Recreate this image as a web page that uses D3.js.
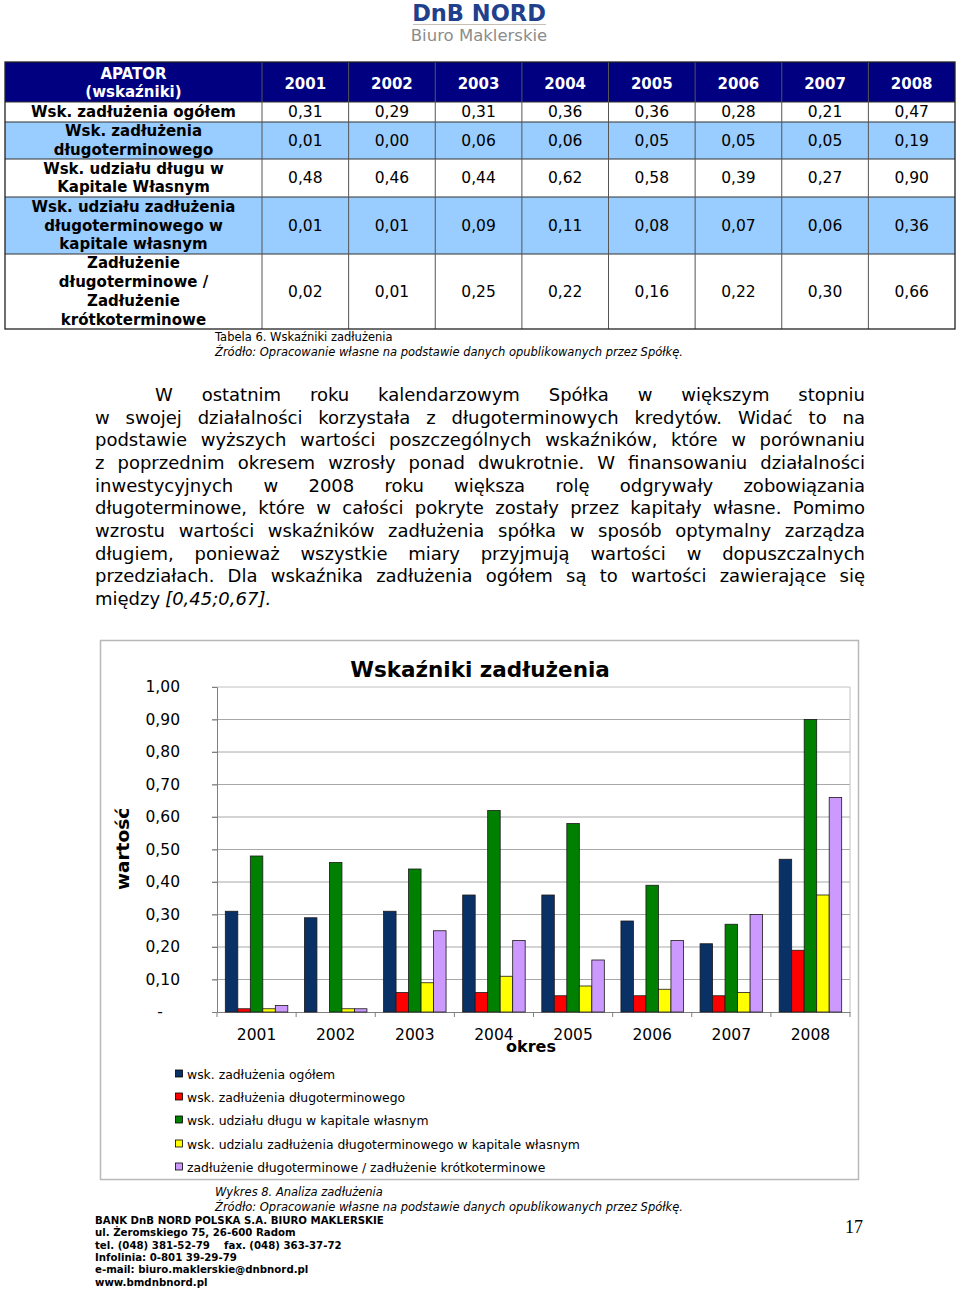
<!DOCTYPE html>
<html><head><meta charset="utf-8">
<script src="https://cdn.jsdelivr.net/npm/d3@7"></script>
<style>body{margin:0;background:#fff}svg{display:block}</style>
</head><body>
<script>
// ---------- DATA ----------
const years = ["2001","2002","2003","2004","2005","2006","2007","2008"];
const tableTitle = ["APATOR","(wskaźniki)"];
const rowLabels = [
  ["Wsk. zadłużenia ogółem"],
  ["Wsk. zadłużenia","długoterminowego"],
  ["Wsk. udziału długu w","Kapitale Własnym"],
  ["Wsk. udziału zadłużenia","długoterminowego w","kapitale własnym"],
  ["Zadłużenie","długoterminowe /","Zadłużenie","krótkoterminowe"]
];
const zadluzenieOgolem      = [0.31,0.29,0.31,0.36,0.36,0.28,0.21,0.47];
const zadluzenieDlugoterm   = [0.01,0.00,0.06,0.06,0.05,0.05,0.05,0.19];
const udzialDluguKapital    = [0.48,0.46,0.44,0.62,0.58,0.39,0.27,0.90];
const udzialZadlDlugKapital = [0.01,0.01,0.09,0.11,0.08,0.07,0.06,0.36];
const dlugoDoKrotko         = [0.02,0.01,0.25,0.22,0.16,0.22,0.30,0.66];
const seriesNames = [
  "wsk. zadłużenia ogółem",
  "wsk. zadłużenia długoterminowego",
  "wsk. udziału długu w kapitale własnym",
  "wsk. udzialu zadłużenia długoterminowego w kapitale własnym",
  "zadłużenie długoterminowe / zadłużenie krótkoterminowe"
];
const seriesColors = ["#0a3166","#ff0000","#008000","#ffff00","#cc99ff"];
const yTicks = [0,0.1,0.2,0.3,0.4,0.5,0.6,0.7,0.8,0.9,1.0];
const chartTitle = "Wskaźniki zadłużenia";
const yTitle = "wartość";
const xTitle = "okres";
const paragraphLines = [
  "W ostatnim roku kalendarzowym Spółka w większym stopniu",
  "w swojej działalności korzystała z długoterminowych kredytów. Widać to na",
  "podstawie wyższych wartości poszczególnych wskaźników, które w porównaniu",
  "z poprzednim okresem wzrosły ponad dwukrotnie. W finansowaniu działalności",
  "inwestycyjnych w 2008 roku większa rolę odgrywały zobowiązania",
  "długoterminowe, które w całości pokryte zostały przez kapitały własne. Pomimo",
  "wzrostu wartości wskaźników zadłużenia spółka w sposób optymalny zarządza",
  "długiem, ponieważ wszystkie miary przyjmują wartości w dopuszczalnych",
  "przedziałach. Dla wskaźnika zadłużenia ogółem są to wartości zawierające się"
];
const paragraphLast = ["między ", "[0,45;0,67]."];
const tableCaption = "Tabela 6. Wskaźniki zadłużenia";
const chartCaption = "Wykres 8. Analiza zadłużenia";
const sourceText = "Źródło: Opracowanie własne na podstawie danych opublikowanych przez Spółkę.";
const footerLines = [
  "BANK DnB NORD POLSKA S.A. BIURO MAKLERSKIE",
  "ul. Żeromskiego 75, 26-600 Radom",
  "tel. (048) 381-52-79    fax. (048) 363-37-72",
  "Infolinia: 0-801 39-29-79",
  "e-mail: biuro.maklerskie@dnbnord.pl",
  "www.bmdnbnord.pl"
];
const pageNumber = "17";

const series = [zadluzenieOgolem, zadluzenieDlugoterm, udzialDluguKapital, udzialZadlDlugKapital, dlugoDoKrotko];
const fmt = v => v.toFixed(2).replace(".", ",");

// ---------- PAGE ----------
const W = 960, H = 1289;
const FONT = "'DejaVu Sans', Verdana, sans-serif";
const svg = d3.select("body").append("svg").attr("width", W).attr("height", H)
  .style("font-family", FONT);
svg.append("rect").attr("width", W).attr("height", H).attr("fill", "#fff");

// Logo
svg.append("text").attr("x", 479).attr("y", 21).attr("text-anchor", "middle")
  .attr("font-size", 22.5).attr("font-weight", "bold").attr("fill", "#21408c").text("DnB NORD");
svg.append("line").attr("x1", 413).attr("x2", 546).attr("y1", 24.5).attr("y2", 24.5)
  .attr("stroke", "#c9bfb4").attr("stroke-width", 1);
svg.append("text").attr("x", 479).attr("y", 41).attr("text-anchor", "middle")
  .attr("font-size", 16.5).attr("fill", "#8c8c8c").text("Biuro Maklerskie");

// ---------- TABLE ----------
const rowEdges = [62,102,122,159,197,254,329];
const colEdges = [5,262].concat(d3.range(1,9).map(i => 262 + i*(955-262)/8));
const rowFills = ["#fff","#99ccff","#fff","#99ccff","#fff"];
const tbl = svg.append("g");
tbl.append("rect").attr("x", 5).attr("y", rowEdges[0]).attr("width", 950)
  .attr("height", rowEdges[1]-rowEdges[0]).attr("fill", "#000080");
rowFills.forEach((f,i) => {
  tbl.append("rect").attr("x", 5).attr("y", rowEdges[i+1]).attr("width", 950)
    .attr("height", rowEdges[i+2]-rowEdges[i+1]).attr("fill", f);
});
rowEdges.slice(1,-1).forEach(y => tbl.append("line").attr("x1",5).attr("x2",955)
  .attr("y1",y).attr("y2",y).attr("stroke","#333").attr("stroke-width",1));
colEdges.slice(1,-1).forEach(x => tbl.append("line").attr("x1",x).attr("x2",x)
  .attr("y1",rowEdges[0]).attr("y2",rowEdges[6]).attr("stroke","#555").attr("stroke-width",1));
tbl.append("rect").attr("x",5).attr("y",rowEdges[0]).attr("width",950)
  .attr("height",rowEdges[6]-rowEdges[0]).attr("fill","none").attr("stroke","#222").attr("stroke-width",1.3);
const lh = 18.7;
function multiline(g, lines, cx, cy, attrs) {
  const n = lines.length;
  lines.forEach((s,i) => {
    const t = g.append("text").attr("x", cx).attr("y", cy + (i-(n-1)/2)*lh)
      .attr("text-anchor","middle").attr("dominant-baseline","central").text(s);
    Object.entries(attrs).forEach(([k,v]) => t.attr(k,v));
  });
}
multiline(tbl, tableTitle, (colEdges[0]+colEdges[1])/2, (rowEdges[0]+rowEdges[1])/2 + 1,
  {"font-size":15,"font-weight":"bold","fill":"#fff"});
years.forEach((y,i) => multiline(tbl, [y], (colEdges[i+1]+colEdges[i+2])/2, (rowEdges[0]+rowEdges[1])/2+2,
  {"font-size":15,"font-weight":"bold","fill":"#fff"}));
rowLabels.forEach((lab,r) => {
  const cy = (rowEdges[r+1]+rowEdges[r+2])/2;
  multiline(tbl, lab, (colEdges[0]+colEdges[1])/2, cy, {"font-size":15,"font-weight":"bold","fill":"#000"});
  series[r].forEach((v,i) => multiline(tbl, [fmt(v)], (colEdges[i+1]+colEdges[i+2])/2, cy,
    {"font-size":15.5,"fill":"#000"}));
});
svg.append("text").attr("x",215).attr("y",341).attr("font-size",11.5).text(tableCaption);
svg.append("text").attr("x",215).attr("y",356).attr("font-size",11.5).attr("font-style","italic").text(sourceText);

// ---------- PARAGRAPH ----------
const pg = svg.append("g").attr("font-size", 18).attr("fill", "#000");
const pLeft = 95, pRight = 865, pBase0 = 401, pLH = 22.67;
function measure(s, italic) {
  const t = pg.append("text").attr("font-style", italic ? "italic" : null).text(s);
  const w = t.node().getComputedTextLength(); t.remove(); return w;
}
paragraphLines.forEach((line,i) => {
  const words = line.split(" ");
  const x0 = i === 0 ? 155 : pLeft;
  const widths = words.map(w => measure(w));
  const gap = (pRight - x0 - d3.sum(widths)) / (words.length - 1);
  let x = x0;
  words.forEach((w,j) => {
    pg.append("text").attr("x", x).attr("y", pBase0 + i*pLH).text(w);
    x += widths[j] + gap;
  });
});
{
  const yb = pBase0 + paragraphLines.length*pLH;
  const w0 = measure(paragraphLast[0]);
  pg.append("text").attr("x", pLeft).attr("y", yb).attr("xml:space","preserve").text(paragraphLast[0]);
  pg.append("text").attr("x", pLeft + w0 + 5).attr("y", yb).attr("font-style","italic").text(paragraphLast[1]);
}

// ---------- CHART ----------
svg.append("rect").attr("x",100.5).attr("y",640.5).attr("width",758).attr("height",539)
  .attr("fill","#fff").attr("stroke","#b8b8b8").attr("stroke-width",1.5);
const pl = 217, pr = 850, pt = 687, pb = 1012;
const y = d3.scaleLinear().domain([0,1]).range([pb,pt]);
const x0s = d3.scaleBand().domain(years).range([pl,pr]).padding(0);
const x1s = d3.scaleBand().domain(d3.range(series.length))
  .range([x0s.bandwidth()*0.105, x0s.bandwidth()*0.895]).padding(0);
const ch = svg.append("g");
ch.selectAll(".grid").data(yTicks.filter(d => d>0)).join("line")
  .attr("x1", pl-5).attr("x2", pr).attr("y1", d => y(d)).attr("y2", d => y(d))
  .attr("stroke", d => d === 1 ? "#c0c0c0" : "#a8a8a8").attr("stroke-width",1);
ch.append("line").attr("x1",pr).attr("x2",pr).attr("y1",pt).attr("y2",pb).attr("stroke","#c0c0c0");
const yAxis = d3.axisLeft(y).tickValues(yTicks).tickSize(5).tickPadding(32)
  .tickFormat(d => d === 0 ? "-" : fmt(d));
const ya = ch.append("g").attr("transform",`translate(${pl},0)`).call(yAxis);
ya.select(".domain").attr("stroke","#808080");
ya.selectAll(".tick line").attr("stroke","#808080");
ya.selectAll(".tick text").attr("font-size",15.5).attr("font-family",FONT).attr("fill","#000")
  .attr("text-anchor", d => d === 0 ? "middle" : "end")
  .attr("dx", d => d === 0 ? -20 : 0);
const xAxis = d3.axisBottom(x0s).tickSize(0).tickPadding(17);
const xa = ch.append("g").attr("transform",`translate(0,${pb})`).call(xAxis);
xa.select(".domain").attr("stroke","#808080");
xa.selectAll(".tick text").attr("font-size",15.5).attr("font-family",FONT).attr("fill","#000");
ch.selectAll(".xtick").data(years.concat(["end"])).join("line")
  .attr("x1", (d,i) => pl + i*x0s.step()).attr("x2", (d,i) => pl + i*x0s.step())
  .attr("y1", pb).attr("y2", pb+5).attr("stroke","#808080");
series.forEach((vals,s) => {
  ch.append("g").selectAll("rect").data(vals).join("rect")
    .attr("x", (d,i) => x0s(years[i]) + x1s(s))
    .attr("y", d => y(d))
    .attr("width", x1s.bandwidth())
    .attr("height", d => pb - y(d))
    .attr("fill", seriesColors[s]).attr("stroke","#1a1a1a").attr("stroke-width",0.8);
});
ch.append("text").attr("x",480).attr("y",677).attr("text-anchor","middle")
  .attr("font-size",21.5).attr("font-weight","bold").text(chartTitle);
ch.append("text").attr("transform","translate(129,849) rotate(-90)").attr("text-anchor","middle")
  .attr("font-size",18.5).attr("font-weight","bold").text(yTitle);
ch.append("text").attr("x",531).attr("y",1052).attr("text-anchor","middle")
  .attr("font-size",16).attr("font-weight","bold").text(xTitle);
const legY = [1074,1097,1120,1144,1167];
seriesNames.forEach((n,i) => {
  ch.append("rect").attr("x",175.5).attr("y",legY[i]-4).attr("width",7).attr("height",7)
    .attr("fill",seriesColors[i]).attr("stroke","#000").attr("stroke-width",0.8);
  ch.append("text").attr("x",187).attr("y",legY[i]).attr("dominant-baseline","central")
    .attr("font-size",12.4).text(n);
});

// ---------- FOOTER ----------
svg.append("text").attr("x",215).attr("y",1196).attr("font-size",11.5).attr("font-style","italic").text(chartCaption);
svg.append("text").attr("x",215).attr("y",1211).attr("font-size",11.5).attr("font-style","italic").text(sourceText);
footerLines.forEach((s,i) => svg.append("text").attr("x",95).attr("y",1224 + i*12.3)
  .attr("font-size",10.2).attr("font-weight","bold").attr("xml:space","preserve").text(s));
svg.append("text").attr("x",845).attr("y",1233).attr("font-size",18)
  .attr("font-family","'Liberation Serif', 'Times New Roman', serif").text(pageNumber);
</script>
</body></html>
